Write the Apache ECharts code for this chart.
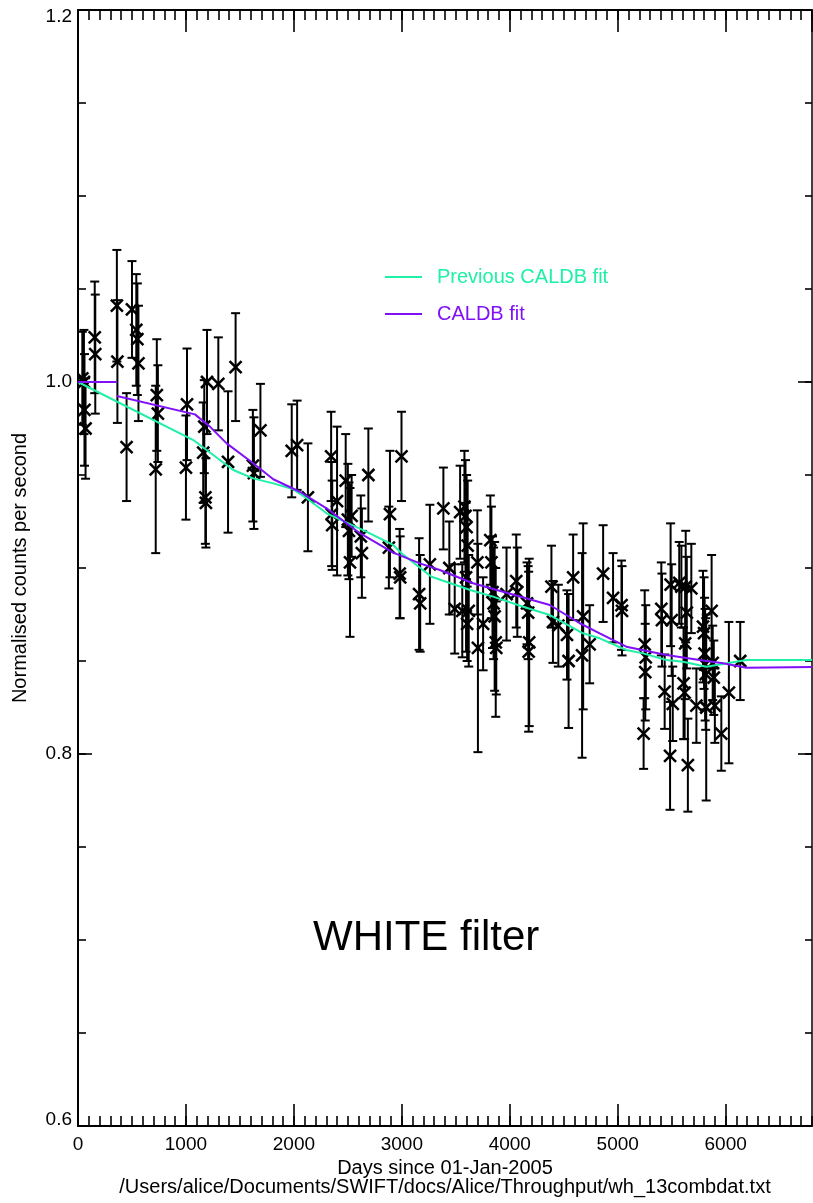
<!DOCTYPE html>
<html><head><meta charset="utf-8">
<script src="https://cdn.jsdelivr.net/npm/echarts@6/dist/echarts.min.js"></script>
<style>html,body{margin:0;padding:0;background:#fff}#c{width:813px;height:1203px}</style>
</head><body><div id="c"></div>
<script>
// Measured points: day, normalised rate, 1-sigma error
const days = [40,55,60,70,155,160,360,365,450,500,540,550,560,720,730,740,1000,1010,1160,1170,1180,1185,1195,1300,1390,1460,1620,1630,1690,1980,2030,2130,2345,2350,2355,2400,2480,2500,2510,2520,2535,2620,2630,2690,2880,2890,2980,2985,2997,3160,3170,3260,3385,3440,3490,3540,3560,3580,3590,3595,3600,3605,3610,3620,3700,3705,3753,3820,3830,3840,3850,3860,3870,3875,3970,4060,4070,4160,4170,4180,4175,4386,4400,4450,4530,4545,4587,4670,4680,4740,4865,4957,5035,5040,5240,5250,5255,5260,5404,5410,5435,5485,5490,5500,5510,5570,5590,5610,5620,5625,5630,5640,5650,5682,5729,5790,5800,5805,5810,5815,5820,5870,5880,5890,5900,5960,6030,6135];
const rates = [1.002,1.000,0.985,0.975,1.024,1.015,1.041,1.011,0.965,1.039,1.028,1.023,1.010,0.953,0.993,0.983,0.954,0.988,0.962,0.976,0.938,0.935,1.000,0.999,0.957,1.008,0.955,0.951,0.974,0.963,0.966,0.938,0.960,0.929,0.923,0.936,0.947,0.926,0.920,0.903,0.928,0.917,0.908,0.950,0.911,0.929,0.897,0.895,0.960,0.886,0.881,0.902,0.932,0.900,0.878,0.930,0.877,0.933,0.928,0.895,0.922,0.870,0.912,0.877,0.903,0.857,0.870,0.915,0.903,0.887,0.881,0.874,0.860,0.857,0.886,0.893,0.887,0.881,0.876,0.860,0.855,0.890,0.871,0.869,0.864,0.850,0.895,0.853,0.874,0.859,0.897,0.884,0.880,0.877,0.811,0.859,0.844,0.852,0.878,0.872,0.8335,0.799,0.891,0.872,0.827,0.892,0.890,0.838,0.833,0.8595,0.890,0.876,0.794,0.889,0.826,0.8685,0.865,0.854,0.848,0.843,0.825,0.877,0.849,0.841,0.826,0.811,0.833,0.850];
const errs = [0.025,0.028,0.030,0.027,0.030,0.032,0.030,0.033,0.029,0.026,0.030,0.030,0.031,0.045,0.030,0.026,0.028,0.030,0.027,0.025,0.025,0.024,0.028,0.025,0.038,0.029,0.030,0.030,0.025,0.025,0.024,0.029,0.024,0.028,0.024,0.040,0.025,0.030,0.026,0.040,0.022,0.022,0.024,0.025,0.022,0.034,0.024,0.022,0.024,0.030,0.026,0.032,0.022,0.025,0.024,0.025,0.025,0.030,0.030,0.040,0.028,0.020,0.035,0.030,0.028,0.056,0.025,0.024,0.030,0.030,0.030,0.040,0.040,0.025,0.025,0.025,0.024,0.022,0.025,0.045,0.043,0.022,0.022,0.022,0.024,0.036,0.023,0.055,0.050,0.021,0.026,0.024,0.024,0.024,0.019,0.029,0.026,0.028,0.025,0.025,0.020,0.029,0.033,0.030,0.020,0.022,0.022,0.030,0.025,0.030,0.030,0.030,0.025,0.024,0.020,0.030,0.030,0.030,0.030,0.030,0.050,0.030,0.020,0.020,0.020,0.020,0.038,0.021];

// Fit curves ('-' marks a break in the line)
const prevFitDays = [0,1068,1438,1623,1809,1994,2118,2303,2642,2920,2997,3275,3640,3846,4124,4371,4679,4833,5080,5235,5451,5605,5822,6192,6800];
const prevFitVals = [1.0,0.9688,0.9527,0.9482,0.9455,0.9423,0.9375,0.9294,0.9204,0.9124,0.9079,0.8953,0.888,0.8846,0.8792,0.8747,0.8649,0.8622,0.8559,0.8541,0.8505,0.8496,0.8469,0.8505,0.8505];
const fitDays = [0,360,360,360,1083,1222,1377,1623,1809,2055,2303,2611,2920,3167,3352,3660,3970,4371,4649,4833,5080,5451,5760,5976,6192,6800];
const fitVals = [1.0,1.0,'-',0.9925,0.9826,0.976,0.967,0.9563,0.9477,0.941,0.9321,0.9187,0.9083,0.9025,0.8989,0.8918,0.8867,0.8801,0.8703,0.8649,0.8577,0.8532,0.8505,0.8488,0.8464,0.8468];

const seriesNames = ['Previous CALDB fit','CALDB fit'];
const yTickLabels = ['0.6','0.8','1.0','1.2'];

const GREEN = '#1ef0a6', PURPLE = '#7f10f8';
const FONT = "'Liberation Sans', Arial, Helvetica, sans-serif";

const chart = echarts.init(document.getElementById('c'), null, {renderer:'canvas'});

function renderErr(params, api){
  const x = api.value(0), y = api.value(1), e = api.value(2);
  const p = api.coord([x,y]);
  const t = api.coord([x,y+e]);
  const b = api.coord([x,y-e]);
  const cw = 4.5, m = 6;
  const s = {stroke:'#000', lineWidth:2};
  const sx = {stroke:'#000', lineWidth:2.5};
  return {type:'group', children:[
    {type:'line', shape:{x1:p[0],y1:t[1],x2:p[0],y2:b[1]}, style:s},
    {type:'line', shape:{x1:p[0]-cw,y1:t[1],x2:p[0]+cw,y2:t[1]}, style:s},
    {type:'line', shape:{x1:p[0]-cw,y1:b[1],x2:p[0]+cw,y2:b[1]}, style:s},
    {type:'line', shape:{x1:p[0]-m,y1:p[1]-m,x2:p[0]+m,y2:p[1]+m}, style:sx},
    {type:'line', shape:{x1:p[0]-m,y1:p[1]+m,x2:p[0]+m,y2:p[1]-m}, style:sx}
  ]};
}

function xAx(pos, interval, len, labels){
  return {
    type:'value', position:pos, offset:0, min:0, max:6800, interval:interval, gridIndex:0,
    axisLine: {show: len>15, onZero:false, lineStyle:{color:'#000', width:2}},
    axisTick:{show:true, inside:true, length:len, lineStyle:{color:'#000', width:1.6}},
    axisLabel:{show:labels, showMaxLabel:false, color:'#000', fontSize:19, fontFamily:FONT, margin:9,
      formatter: v => String(v)},
    splitLine:{show:false}
  };
}
const xAxes = [xAx('bottom',1000,22,true), xAx('bottom',100,10,false), xAx('top',1000,22,false), xAx('top',100,10,false)];
xAxes[0].name = 'Days since 01-Jan-2005\n/Users/alice/Documents/SWIFT/docs/Alice/Throughput/wh_13combdat.txt';
xAxes[0].nameLocation = 'middle';
xAxes[0].nameGap = 31;
xAxes[0].nameTextStyle = {color:'#000', fontSize:20, lineHeight:19, fontFamily:FONT};

function yAx(pos, interval, len, labels){
  return {
    type:'value', position:pos, offset:0, min:0.6, max:1.2, interval:interval, gridIndex:0,
    axisLine: {show: len>10, onZero:false, lineStyle:{color:'#000', width: pos==='left'?2:1.5}},
    axisTick:{show:true, inside:true, length:len, lineStyle:{color:'#000', width:1.6}},
    axisLabel:{show:labels, color:'#000', fontSize:19, fontFamily:FONT, margin:6,
      formatter: v => {
        const i = Math.round((v-0.6)/0.2);
        const t = yTickLabels[i];
        if (i === 0) return '{lo|' + t + '}';
        if (i === yTickLabels.length-1) return '{hi|' + t + '}';
        return t;
      },
      rich:{
        lo:{fontSize:19, fontFamily:FONT, color:'#000', padding:[0,0,13,0]},
        hi:{fontSize:19, fontFamily:FONT, color:'#000', padding:[14,0,0,0]}
      }
    },
    splitLine:{show:false}
  };
}
const yAxes = [yAx('left',0.2,14,true), yAx('left',0.05,8,false), yAx('right',0.2,14,false), yAx('right',0.05,7,false)];
yAxes[0].name = 'Normalised counts per second';
yAxes[0].nameLocation = 'middle';
yAxes[0].nameRotate = 90;
yAxes[0].nameGap = 48;
yAxes[0].nameTextStyle = {color:'#000', fontSize:20, fontFamily:FONT};

const option = {
  animation:false,
  backgroundColor:'#fff',
  grid:{left:78, top:10, width:734, height:1116, containLabel:false},
  xAxis:xAxes,
  yAxis:yAxes,
  legend:{
    orient:'vertical', left:380, top:262, itemWidth:37, itemHeight:2, itemGap:17,
    icon:'rect',
    data:[
      {name:seriesNames[0], textStyle:{color:GREEN}},
      {name:seriesNames[1], textStyle:{color:PURPLE}}
    ],
    textStyle:{fontSize:20, fontFamily:FONT, lineHeight:20, padding:[0,0,0,10]},
    selectedMode:false
  },
  graphic:[
    {type:'text', left:313, top:917, style:{text:'WHITE filter', fontSize:42, fontFamily:FONT, fill:'#000'}}
  ],
  series:[
    {type:'custom', name:'data', xAxisIndex:0, yAxisIndex:0, renderItem:renderErr,
     encode:{x:0,y:1}, data: days.map((d,i)=>[d,rates[i],errs[i]]), z:2, clip:true},
    {type:'line', name:seriesNames[0], xAxisIndex:0, yAxisIndex:0, symbol:'none', showSymbol:false,
     data: prevFitDays.map((d,i)=>[d,prevFitVals[i]]), lineStyle:{color:GREEN, width:2}, itemStyle:{color:GREEN}, z:3},
    {type:'line', name:seriesNames[1], xAxisIndex:0, yAxisIndex:0, symbol:'none', showSymbol:false, connectNulls:false,
     data: fitDays.map((d,i)=>[d,fitVals[i]]), lineStyle:{color:PURPLE, width:2}, itemStyle:{color:PURPLE}, z:3}
  ]
};
chart.setOption(option);
</script></body></html>
